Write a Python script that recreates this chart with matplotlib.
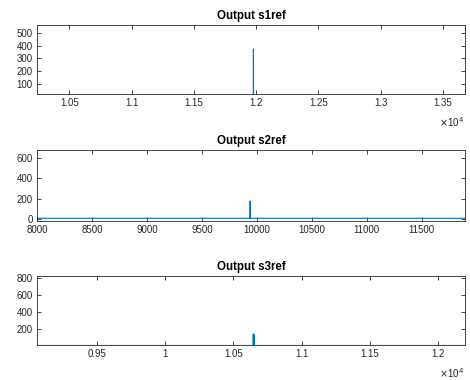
import numpy as np
import matplotlib
matplotlib.use("Agg")
import matplotlib.pyplot as plt
from matplotlib.ticker import FuncFormatter, MultipleLocator

plt.rcParams['font.family'] = ['Liberation Sans', 'DejaVu Sans']

# sampled outputs (only the region around each peak matters)
s1_x = [10240, 11977, 11978, 11979, 13677]
s1_y = [0, 0, 374, 0, 0]

s2_x = [8000, 9938, 9939, 9940, 11894]
s2_y = [7, 7, 176, 7, 7]

s3_x = [9063, 10647, 10648, 10649, 10650, 12195]
s3_y = [0, 0, 137, 137, 0, 0]

titles = ["Output s1ref", "Output s2ref", "Output s3ref"]

blue = "#0072BD"
dark = "#262626"

fig = plt.figure(figsize=(4.7, 3.8), dpi=100)

# axes boxes in figure fraction (left, bottom, width, height)
boxes = [
    (37 / 470, 1 - 94 / 380, 428 / 470, 69 / 380),
    (37 / 470, 1 - 220.7 / 380, 428 / 470, 70.7 / 380),
    (37 / 470, 1 - 345 / 380, 428 / 470, 69.3 / 380),
]


def setup(ax, title, xlim, ylim, ystep, scaled):
    ax.set_xlim(*xlim)
    ax.set_ylim(*ylim)
    ax.xaxis.set_major_locator(MultipleLocator(500))
    ax.yaxis.set_major_locator(MultipleLocator(ystep))
    if scaled:
        ax.xaxis.set_major_formatter(FuncFormatter(lambda v, p: "%g" % round(v / 1e4, 4)))
        ax.text(0.997, -0.31, r"$\times$10$^{4}$", transform=ax.transAxes,
                ha="right", va="top", fontsize=7, color=dark)
    ax.tick_params(direction="in", length=3, width=0.6, top=True, right=True,
                   labelsize=7, colors=dark, pad=3)
    for sp in ax.spines.values():
        sp.set_color(dark)
        sp.set_linewidth(0.6)
    ax.set_title(title, fontsize=8.3, fontweight="bold", color="black", pad=4)


ax1 = fig.add_axes(boxes[0])
ax1.plot(s1_x, s1_y, color=blue, lw=0.8)
setup(ax1, titles[0], (10240, 13677), (21, 563), 100, True)

ax2 = fig.add_axes(boxes[1])
ax2.plot(s2_x, s2_y, color=blue, lw=0.8)
setup(ax2, titles[1], (8000, 11894), (-17, 675), 200, False)

ax3 = fig.add_axes(boxes[2])
ax3.plot(s3_x, s3_y, color=blue, lw=1.4)
setup(ax3, titles[2], (9063, 12195), (10.6, 831), 200, True)

fig.savefig("out.png", dpi=100)
